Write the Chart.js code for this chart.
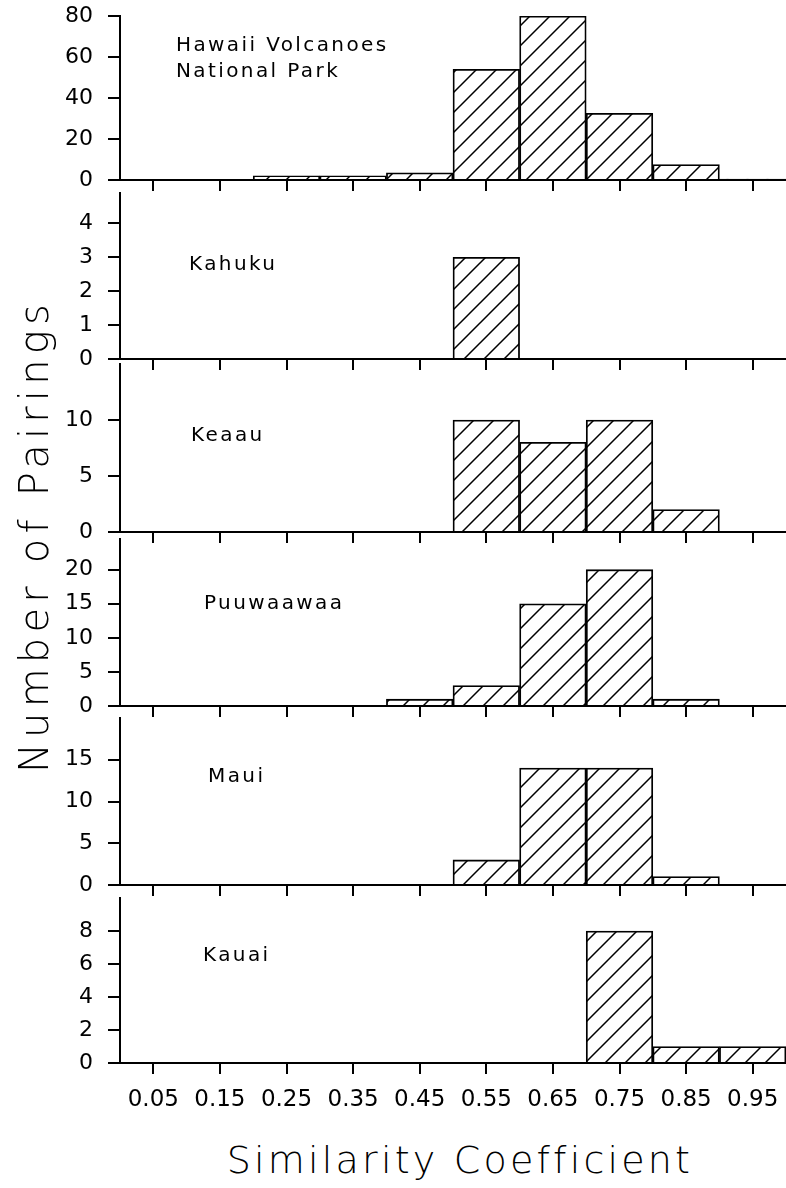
<!DOCTYPE html>
<html>
<head>
<meta charset="utf-8">
<script src="https://cdn.jsdelivr.net/npm/chart.js@4.4.0/dist/chart.umd.min.js"></script>
<style>
html,body{margin:0;padding:0;background:#fff;overflow:hidden;}
#wrap{position:relative;width:786px;height:1188px;overflow:hidden;background:#fff;}
#wrap canvas{position:absolute;left:0;}
.lbl{position:absolute;font-family:'DejaVu Sans',sans-serif;font-size:20px;line-height:20px;letter-spacing:2.4px;color:#000;white-space:nowrap;}
.ttl{position:absolute;font-family:'DejaVu Sans',sans-serif;font-weight:200;line-height:48px;height:48px;width:700px;color:#000;white-space:nowrap;text-align:center;}
</style>
</head>
<body>
<div id="wrap"></div>
<script>
// ---- data ----
const binLabels = ['0.05','0.15','0.25','0.35','0.45','0.55','0.65','0.75','0.85','0.95'];
const panelNames = [['Hawaii Volcanoes','National Park'], ['Kahuku'], ['Keaau'], ['Puuwaawaa'], ['Maui'], ['Kauai']];
const hvnp      = [null, null, 2, 2, 3.5, 54, 80, 32.5, 7.5, 0.5];
const kahuku    = [null, null, null, null, null, 3, null, null, null, null];
const keaau     = [null, null, null, null, null, 10, 8, 10, 2, null];
const puuwaawaa = [null, null, null, null, 1, 3, 15, 20, 1, null];
const maui      = [null, null, null, null, null, 3, 14, 14, 1, null];
const kauai     = [null, null, null, null, null, null, null, 8, 1, 1];
const hvnpTicks   = [0, 20, 40, 60, 80];
const kahukuTicks = [0, 1, 2, 3, 4];
const keaauTicks  = [0, 5, 10];
const puuTicks    = [0, 5, 10, 15, 20];
const mauiTicks   = [0, 5, 10, 15];
const kauaiTicks  = [0, 2, 4, 6, 8];
const yMaxes = [80, 4.9, 15, 24.5, 20, 10];
const xTitle = 'Similarity Coefficient';
const yTitle = 'Number of Pairings';

const series = [hvnp, kahuku, keaau, puuwaawaa, maui, kauai];
const tickSets = [hvnpTicks, kahukuTicks, keaauTicks, puuTicks, mauiTicks, kauaiTicks];

// ---- layout (pixels) ----
const axisTop = [16, 193, 364, 539, 718, 898];
const zeroY   = [180, 359, 532, 706, 885, 1063];
const labelPos = [[176, 34, 26], [189, 253], [191, 424], [204, 592], [208, 765], [203, 944]];
const PAD_TOP = 30;

const wrap = document.getElementById('wrap');

function makeHatch() {
  const p = 20;
  const c = document.createElement('canvas');
  c.width = p; c.height = p;
  const g = c.getContext('2d');
  g.fillStyle = '#fff'; g.fillRect(0, 0, p, p);
  g.strokeStyle = '#000'; g.lineWidth = 1.5;
  g.beginPath();
  for (let k = -1; k <= 1; k++) { g.moveTo(k * p - p, 2 * p); g.lineTo(k * p + 2 * p, -p); }
  g.stroke();
  return g.createPattern(c, 'repeat');
}
const hatch = makeHatch();

const last = series.length - 1;
series.forEach((data, i) => {
  const xH = i === last ? 64 : 30;
  const h = PAD_TOP + (zeroY[i] - axisTop[i]) + xH;
  const canvas = document.createElement('canvas');
  canvas.width = 786; canvas.height = h;
  canvas.style.top = (axisTop[i] - PAD_TOP) + 'px';
  canvas.style.width = '786px'; canvas.style.height = h + 'px';
  wrap.appendChild(canvas);
  const ticks = tickSets[i];
  new Chart(canvas, {
    type: 'bar',
    data: {
      labels: binLabels,
      datasets: [{
        data: data,
        backgroundColor: hatch,
        borderColor: '#000',
        borderWidth: 1.8,
        barPercentage: 1,
        categoryPercentage: 1
      }]
    },
    options: {
      responsive: false,
      animation: false,
      devicePixelRatio: 1,
      layout: { padding: { top: PAD_TOP, left: 0, right: 0, bottom: 0 } },
      plugins: { legend: { display: false }, tooltip: { enabled: false }, title: { display: false } },
      scales: {
        x: {
          type: 'category',
          offset: true,
          grid: { display: true, offset: false, drawOnChartArea: false, drawTicks: true, tickLength: 11, color: '#000', lineWidth: 2 },
          border: { display: true, color: '#000', width: 2 },
          ticks: { display: i === last, autoSkip: false, maxRotation: 0, minRotation: 0, padding: 7, color: '#000', font: { family: 'DejaVu Sans', size: 23, lineHeight: 1.65 } },
          afterFit: s => { s.height = xH; }
        },
        y: {
          min: 0,
          max: yMaxes[i],
          afterBuildTicks: s => { s.ticks = ticks.map(v => ({ value: v })); },
          grid: { display: true, drawOnChartArea: false, drawTicks: true, tickLength: 12, color: '#000', lineWidth: 2 },
          border: { display: true, color: '#000', width: 2 },
          ticks: { padding: 15, color: '#000', font: { family: 'DejaVu Sans', size: 22 } },
          afterFit: s => { s.width = 120; }
        }
      }
    }
  });
});

// panel names
panelNames.forEach((lines, i) => {
  const [x, y, gap] = labelPos[i];
  lines.forEach((t, j) => {
    const d = document.createElement('div');
    d.className = 'lbl';
    d.textContent = t;
    d.style.left = x + 'px';
    d.style.top = (y + j * (gap || 0)) + 'px';
    wrap.appendChild(d);
  });
});

// axis titles
const xt = document.createElement('div');
xt.className = 'ttl';
xt.textContent = xTitle;
xt.style.fontSize = '38px';
xt.style.letterSpacing = '3.2px';
xt.style.left = (460 - 350) + 'px';
xt.style.top = (1160 - 24) + 'px';
wrap.appendChild(xt);

const yt = document.createElement('div');
yt.className = 'ttl';
yt.textContent = yTitle;
yt.style.fontSize = '40px';
yt.style.letterSpacing = '5.2px';
yt.style.left = (34 - 350) + 'px';
yt.style.top = (536 - 24) + 'px';
yt.style.transform = 'rotate(-90deg)';
yt.style.transformOrigin = '50% 50%';
wrap.appendChild(yt);
</script>
</body>
</html>
